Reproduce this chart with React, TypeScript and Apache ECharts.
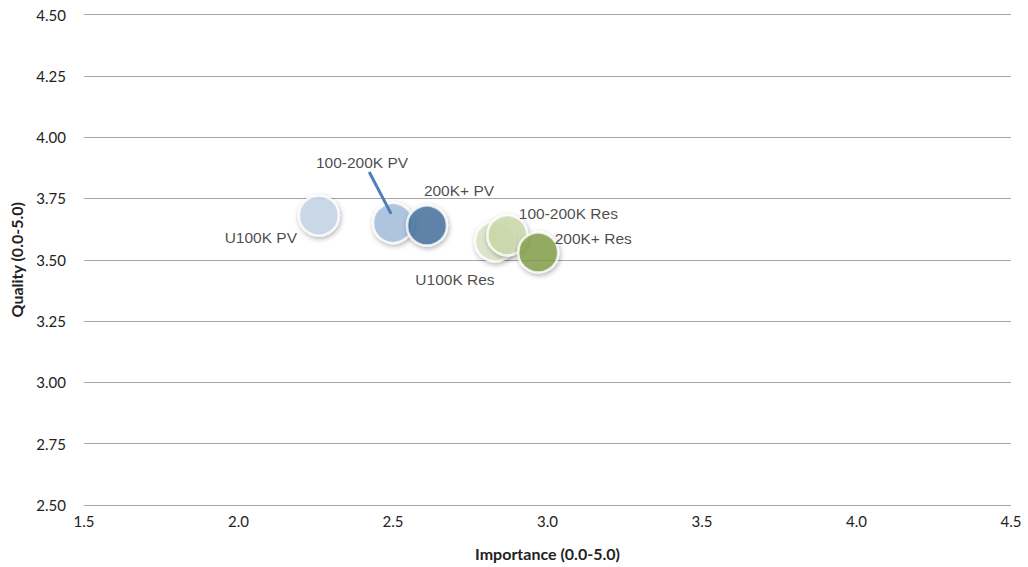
import React, { useEffect, useRef } from "react";
import * as echarts from "echarts";

const names = ["U100K PV", "100-200K PV", "200K+ PV", "U100K Res", "100-200K Res", "200K+ Res"];
const importance = [2.26, 2.5, 2.61, 2.83, 2.87, 2.97];
const quality = [3.68, 3.65, 3.64, 3.575, 3.6, 3.53];
const colors = ["#c6d6ea", "#a5bfe0", "#44709f", "#dde6c9", "#cddcab", "#86a04b"];
const labelOffsets: [number, number][] = [
  [-58, 22],
  [-31, -60],
  [32, -35],
  [-40, 38],
  [61, -22],
  [55, -14],
];
const leader = [
  [2.423, 3.858],
  [2.494, 3.687],
];
const xTicks = { min: 1.5, max: 4.5, interval: 0.5 };
const yTicks = { min: 2.5, max: 4.5, interval: 0.25 };

export default function App() {
  const ref = useRef<HTMLDivElement>(null);
  useEffect(() => {
    if (!ref.current) return;
    const chart = echarts.init(ref.current, undefined, { renderer: "svg" });
    const data = names.map((n, i) => ({
      name: n,
      value: [importance[i], quality[i]],
      itemStyle: { color: colors[i] },
      label: { offset: labelOffsets[i] },
    }));
    chart.setOption({
      animation: false,
      backgroundColor: "#ffffff",
      grid: { left: 80, right: 17, top: 14.5, bottom: 62, containLabel: false },
      xAxis: {
        type: "value",
        min: xTicks.min,
        max: xTicks.max,
        interval: xTicks.interval,
        name: "Importance (0.0-5.0)",
        nameLocation: "middle",
        nameGap: 40,
        nameTextStyle: { fontFamily: "Lato", fontWeight: "bold", fontSize: 16, color: "#222" },
        axisLine: { show: false },
        axisTick: { show: false },
        splitLine: { show: false },
        axisLabel: {
          fontFamily: "Lato",
          fontSize: 15,
          color: "#222",
          margin: 8,
          formatter: (v: number) => v.toFixed(1),
        },
      },
      yAxis: {
        type: "value",
        min: yTicks.min,
        max: yTicks.max,
        interval: yTicks.interval,
        name: "Quality (0.0-5.0)",
        nameLocation: "middle",
        nameGap: 60,
        nameTextStyle: { fontFamily: "Lato", fontWeight: "bold", fontSize: 16, color: "#222" },
        axisLine: { show: false },
        axisTick: { show: false },
        splitLine: { show: true, lineStyle: { color: "#a6a6a6", width: 1.2 } },
        axisLabel: {
          fontFamily: "Lato",
          fontSize: 15,
          color: "#222",
          margin: 18,
          formatter: (v: number) => v.toFixed(2),
        },
      },
      series: [
        {
          type: "scatter",
          symbolSize: 40,
          data,
          itemStyle: {
            borderColor: "#ffffff",
            borderWidth: 2.5,
            shadowBlur: 5,
            shadowColor: "rgba(0,0,0,0.35)",
            shadowOffsetX: 1,
            shadowOffsetY: 2,
          },
          label: {
            show: true,
            position: "inside",
            formatter: (p: any) => p.name,
            fontFamily: "Liberation Sans",
            fontSize: 15.5,
            color: "#1a1a1a",
          },
          emphasis: { disabled: true },
          markLine: {
            silent: true,
            symbol: ["none", "none"],
            label: { show: false },
            lineStyle: { color: "#4f7fb8", width: 3, type: "solid" },
            data: [[{ coord: leader[0] }, { coord: leader[1] }]],
          },
        },
      ],
    });
    return () => chart.dispose();
  }, []);
  return (
    <div
      ref={ref}
      style={{ position: "fixed", left: 0, top: 0, width: 1028, height: 567, margin: 0 }}
    />
  );
}
